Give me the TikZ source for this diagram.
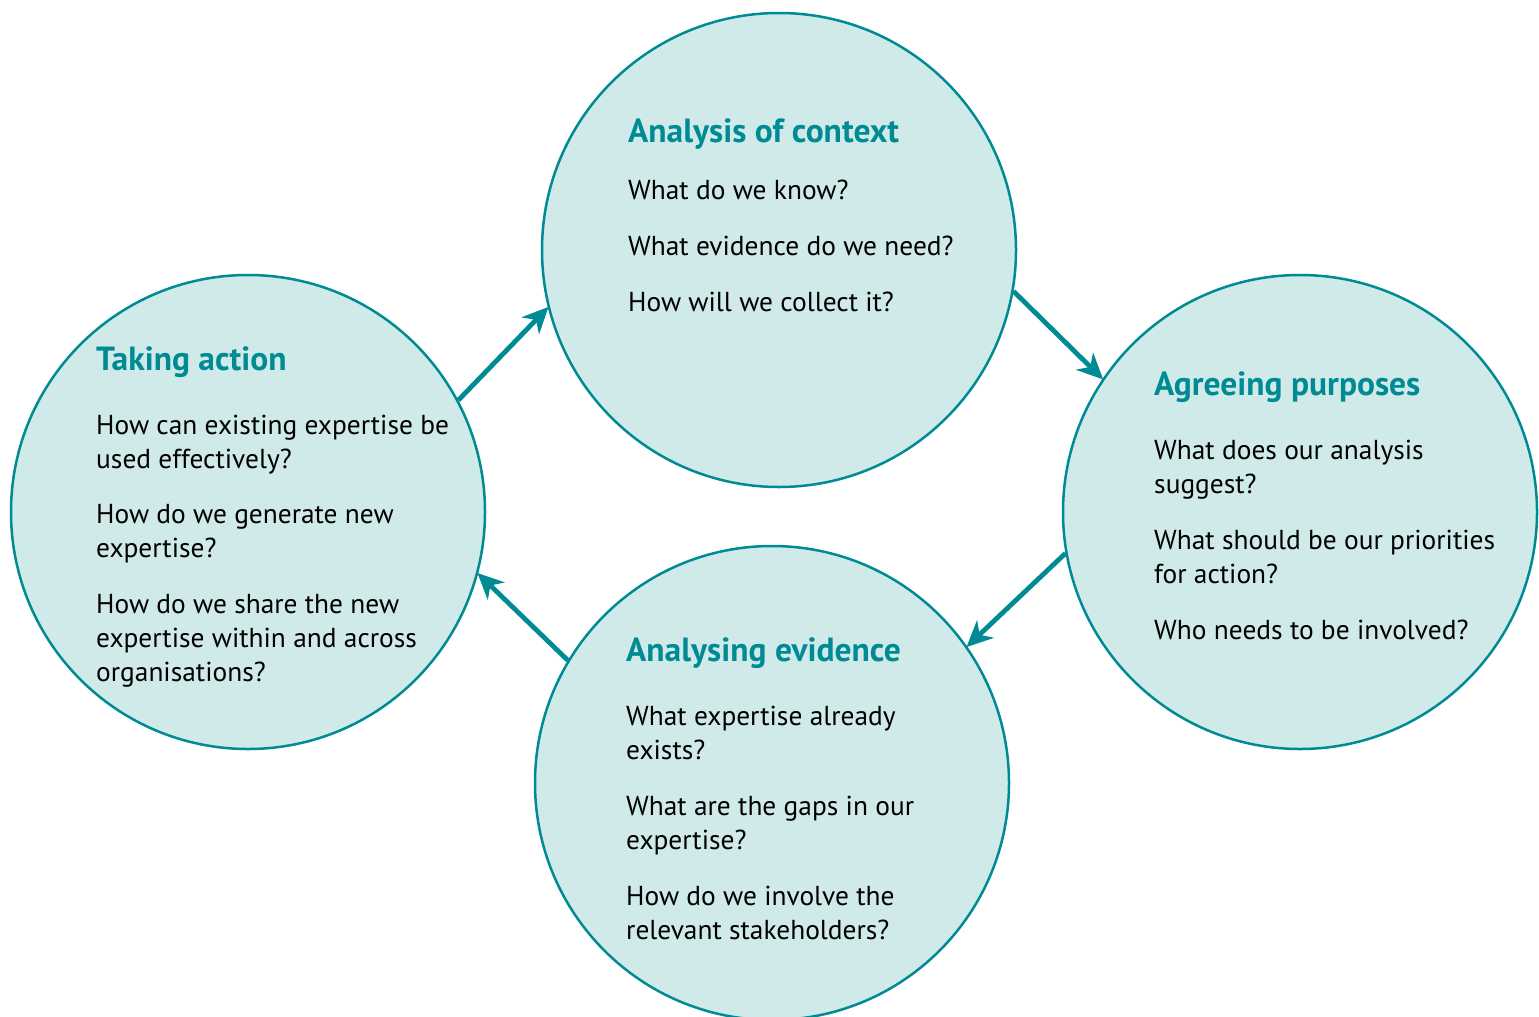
\documentclass[tikz,border=0pt]{standalone}
\usepackage{fontspec}
\setmainfont{PT Sans}
\usetikzlibrary{arrows.meta}
\definecolor{teal1}{RGB}{0,139,148}
\definecolor{fillc}{RGB}{208,234,233}
\tikzset{
  bubble/.style={circle, draw=teal1, fill=fillc, line width=2.5pt, minimum size=474pt, inner sep=0pt},
  ttl/.style={anchor=base west, inner sep=0pt, text=teal1, font=\fontsize{33.5}{40}\selectfont\bfseries},
  body/.style={anchor=base west, inner sep=0pt, align=left, font=\fontsize{27.4}{34}\selectfont},
  flow/.style={draw=teal1, line width=4.8pt, -{Stealth[length=26pt,width=24pt,inset=8pt]}, shorten >=-1pt}
}
\begin{document}
\begin{tikzpicture}[x=1pt,y=-1pt]
\useasboundingbox (0,0) rectangle (1539,1017);
\node[bubble] (T) at (779,250) {};
\node[bubble] (R) at (1300,512) {};
\node[bubble] (B) at (772,783) {};
\node[bubble] (L) at (248,512) {};

\draw[flow] (L.28) -- (T.194);
\draw[flow] (T.350) -- (R.146);
\draw[flow] (R.190) -- (B.35);
\draw[flow] (B.149) -- (L.345);

% top
\node[ttl] (t0) at (628,142) {Analysis of context};
\node[body] (t1) at (628,199) {What do we know?};
\node[body] (t2) at (628,255) {What evidence do we need?};
\node[body] (t3) at (628,311) {How will we collect it?};
% right (base anchor = last line's baseline)
\node[ttl] (r0) at (1154,395) {Agreeing purposes};
\node[body] (r1) at (1154,493) {What does our analysis\\suggest?};
\node[body] (r2) at (1154,583) {What should be our priorities\\for action?};
\node[body] (r3) at (1154,639) {Who needs to be involved?};
% bottom
\node[ttl] (b0) at (626,661) {Analysing evidence};
\node[body] (b1) at (626,759) {What expertise already\\exists?};
\node[body] (b2) at (626,849) {What are the gaps in our\\expertise?};
\node[body] (b3) at (626,939) {How do we involve the\\relevant stakeholders?};
% left
\node[ttl] (l0) at (96,370) {Taking action};
\node[body] (l1) at (96,468) {How can existing expertise be\\used effectively?};
\node[body] (l2) at (96,557) {How do we generate new\\expertise?};
\node[body] (l3) at (96,681) {How do we share the new\\expertise within and across\\organisations?};
\end{tikzpicture}
\end{document}
